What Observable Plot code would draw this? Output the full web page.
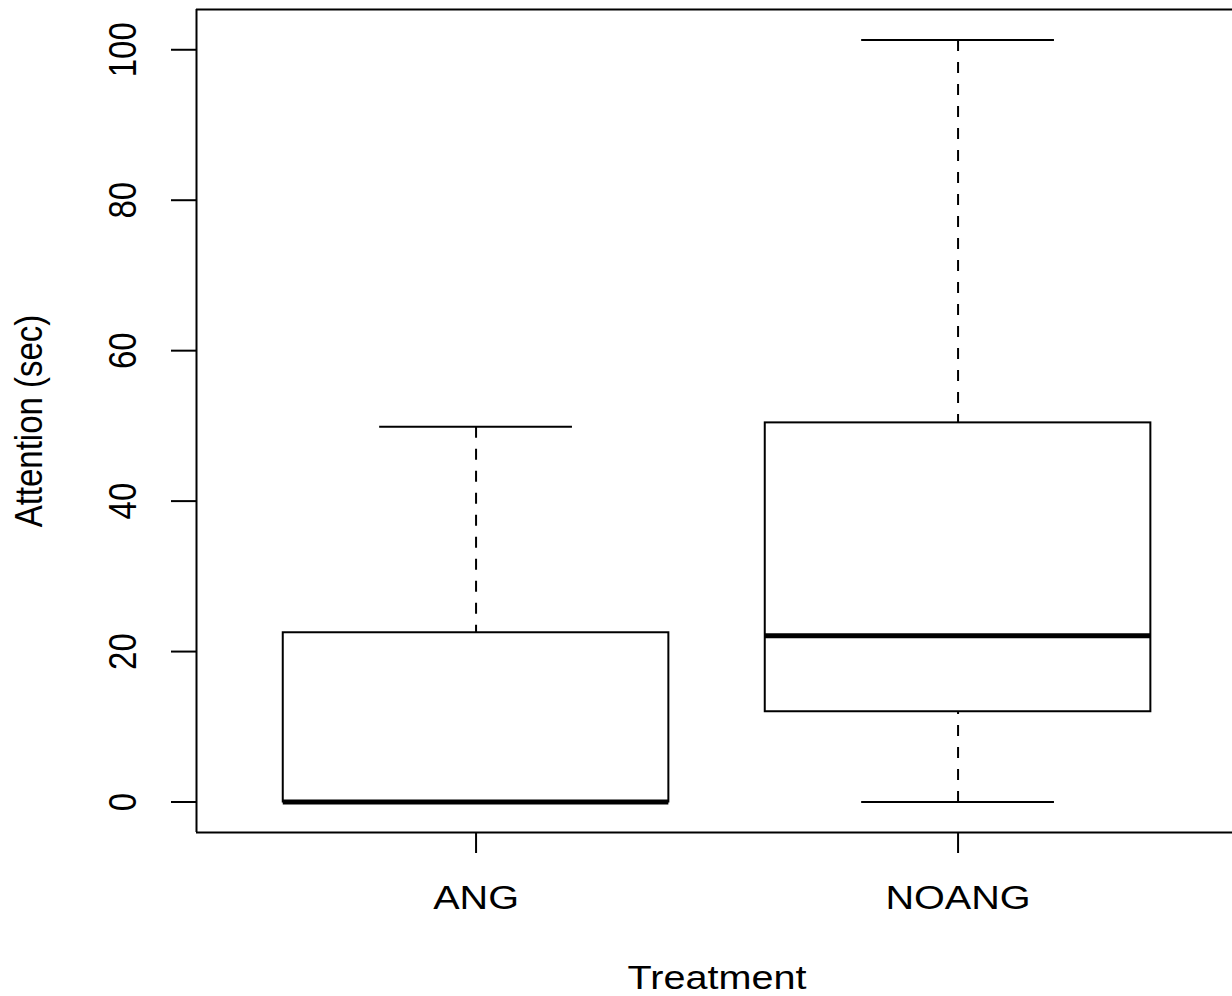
<!DOCTYPE html>
<html>
<head>
<meta charset="utf-8">
<script src="https://cdn.jsdelivr.net/npm/d3@7"></script>
<script src="https://cdn.jsdelivr.net/npm/@observablehq/plot@0.6"></script>
<style>
  html, body { margin: 0; padding: 0; background: #fff; overflow: hidden; }
  #chart svg { display: block; background: #fff; }
</style>
</head>
<body>
<div id="chart"></div>
<script>
// ---- data ----
const treatments = ["ANG", "NOANG"];
const whiskerLow  = [0, 0];
const quart1      = [0, 12.0];
const medians     = [0, 22.1];
const quart3      = [22.5, 50.4];
const whiskerHigh = [49.9, 101.3];
const yTicks = [0, 20, 40, 60, 80, 100];
const xTitle = "Treatment";
const yTitle = "Attention (sec)";

const rows = treatments.map((t, i) => ({
  treatment: t, pos: i + 1,
  lo: whiskerLow[i], q1: quart1[i], med: medians[i], q3: quart3[i], hi: whiskerHigh[i]
}));

// R-style axis extents (4% padding)
const yMin = Math.min(...whiskerLow), yMax = Math.max(...whiskerHigh);
const yPad = (yMax - yMin) * 0.04;
const yDomain = [yMin - yPad, yMax + yPad];
const xLeft = 0.5 - 0.08;
const W = 1232, H = 996, mL = 196, mT = 9, mB = 164;
const pxPerUnit = 482;
const xDomain = [xLeft, xLeft + (W - mL) / pxPerUnit];

const FS = 33;
const dash = "11,11";

const chart = Plot.plot({
  width: W, height: H,
  marginLeft: mL, marginRight: 0, marginTop: mT, marginBottom: mB,
  style: { fontFamily: "'Liberation Sans', Arial, Helvetica, sans-serif", background: "#fff", color: "#000" },
  x: { domain: xDomain, axis: null, label: null },
  y: { domain: yDomain, axis: null, label: null },
  marks: [
    // whiskers (dashed)
    Plot.link(rows, { x1: "pos", x2: "pos", y1: "hi", y2: "q3", stroke: "#000", strokeWidth: 2, strokeDasharray: dash }),
    Plot.link(rows.filter(d => d.q1 > d.lo), { x1: "pos", x2: "pos", y1: "lo", y2: "q1", stroke: "#000", strokeWidth: 2, strokeDasharray: dash }),
    // whisker caps
    Plot.ruleY(rows, { y: "hi", x1: d => d.pos - 0.2, x2: d => d.pos + 0.2, stroke: "#000", strokeWidth: 2 }),
    Plot.ruleY(rows, { y: "lo", x1: d => d.pos - 0.2, x2: d => d.pos + 0.2, stroke: "#000", strokeWidth: 2 }),
    // boxes
    Plot.rect(rows, { x1: d => d.pos - 0.4, x2: d => d.pos + 0.4, y1: "q1", y2: "q3", fill: "#fff", stroke: "#000", strokeWidth: 2 }),
    // medians
    Plot.ruleY(rows, { y: "med", x1: d => d.pos - 0.4, x2: d => d.pos + 0.4, stroke: "#000", strokeWidth: 5 }),
    // frame (left, top, bottom; right edge lies outside the picture)
    Plot.ruleX([xLeft], { y1: yDomain[0], y2: yDomain[1], stroke: "#000", strokeWidth: 2 }),
    Plot.ruleY(yDomain, { stroke: "#000", strokeWidth: 2 }),
    // y axis ticks and labels
    Plot.axisY({ ticks: yTicks, anchor: "left", label: null, tickSize: 25, tickFormat: () => "", stroke: "#000", strokeWidth: 2 }),
    Plot.text(yTicks, { y: d => d, text: d => String(d), frameAnchor: "left", dx: -61, rotate: -90,
      textAnchor: "middle", lineAnchor: "bottom", fontSize: FS, fill: "#000" }),
    // x axis ticks and labels
    Plot.axisX({ ticks: rows.map(d => d.pos), anchor: "bottom", label: null, tickSize: 21, tickFormat: () => "", stroke: "#000", strokeWidth: 2 }),
    Plot.text(rows, { x: "pos", text: "treatment", frameAnchor: "bottom", dy: 76,
      textAnchor: "middle", lineAnchor: "bottom", fontSize: FS, fill: "#000" }),
    // axis titles
    Plot.text([xTitle], { x: () => (xLeft + (treatments.length + 0.58)) / 2, text: d => d, frameAnchor: "bottom", dy: 156,
      textAnchor: "middle", lineAnchor: "bottom", fontSize: FS, fill: "#000" }),
    Plot.text([yTitle], { text: d => d, frameAnchor: "left", dx: -155, rotate: -90,
      textAnchor: "middle", lineAnchor: "bottom", fontSize: FS, fill: "#000" })
  ]
});

// the reference's text is horizontally stretched (~1.2x)
chart.querySelectorAll("text").forEach(t => {
  const tr = t.getAttribute("transform");
  if (tr && /^translate\(/.test(tr)) {
    t.setAttribute("transform", tr.replace(/^(translate\([^)]*\))/, "$1 scale(1.2,1)"));
  }
});

document.getElementById("chart").appendChild(chart);
</script>
</body>
</html>
